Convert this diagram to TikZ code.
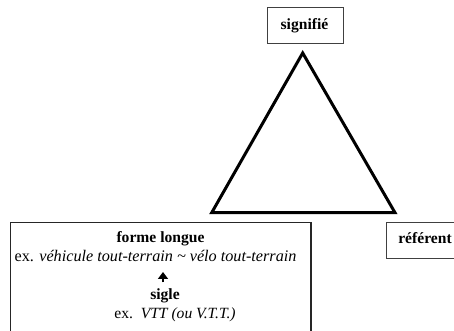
\documentclass[tikz,border=0pt]{standalone}
\usepackage{fontspec}
\setmainfont{Liberation Serif}
\usetikzlibrary{arrows.meta}
\begin{document}
\begin{tikzpicture}[x=1pt,y=1pt,
  lbl/.style={inner sep=0pt,anchor=base,font=\fontsize{15.6}{18}\selectfont},
  thinbox/.style={draw=black!75,line width=0.9pt},
  tri/.style={draw=black,line width=3pt,line join=miter},
  upar/.style={-{Triangle[width=10pt,length=7pt]},line width=2.8pt}]
\useasboundingbox (0,0) rectangle (454,331);
% signifie box
\draw[thinbox] (267,324) rectangle (343,288);
\node[lbl] (sig) at (304.5,301.7) {\textbf{signifié}};
% triangle
\coordinate (A) at (302.7,278);
\coordinate (B) at (211.7,118.3);
\coordinate (C) at (395,118.3);
\draw[tri] (A) -- (B) -- (C) -- cycle;
% referent box
\draw[thinbox] (454,108.3) -- (386.7,108.3) -- (386.7,72.7) -- (454,72.7);
\node[lbl] (ref) at (425,87.7) {\textbf{référent}};
% left box
\draw[draw=black!85,line width=1.3pt] (10.7,0) -- (10.7,108.3) -- (311,108.3) -- (311,0);
\node[lbl] (fl) at (160.5,88.3) {\textbf{forme longue}};
\node[lbl,font=\fontsize{16.2}{18}\selectfont] (ex1) at (155.5,69.3) {ex. \textit{véhicule tout-terrain \textasciitilde{} vélo tout-terrain}};
\coordinate (a0) at (163,48.5);
\coordinate (a1) at (163,59);
\draw[upar] (a0) -- (a1);
\node[lbl] (sg) at (165,31) {\textbf{sigle}};
\node[lbl] (ex2) at (175,12.7) {ex.\ \ \textit{VTT (ou V.T.T.)}};
\end{tikzpicture}
\end{document}
